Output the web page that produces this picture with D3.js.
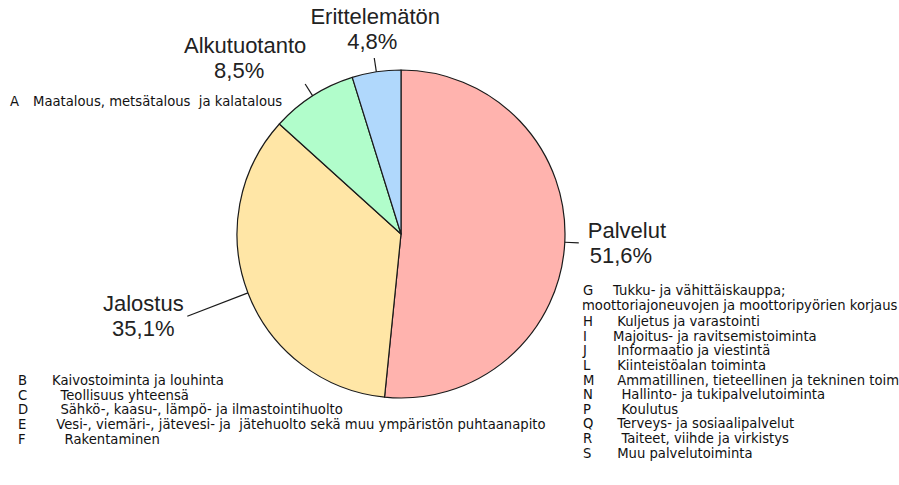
<!DOCTYPE html>
<html>
<head>
<meta charset="utf-8">
<script src="https://cdnjs.cloudflare.com/ajax/libs/d3/7.8.5/d3.min.js"></script>
<style>
  body { margin: 0; background: #fff; }
  text { white-space: pre; }
</style>
</head>
<body>
<div id="chart"></div>
<script>

// data
var sectors = ["Palvelut", "Jalostus", "Alkutuotanto", "Erittelemätön"];
var shares = [51.6, 35.1, 8.5, 4.8];
var colors = ["#ffb3ae", "#ffe6a6", "#b1fdcb", "#b0d8fc"];

// toimialaluokat (leading spaces kept like in the original)
var codesA = ["A"];
var namesA = ["Maatalous, metsätalous  ja kalatalous"];
var codesJalostus = ["B", "C", "D", "E", "F"];
var namesJalostus = ["Kaivostoiminta ja louhinta", "  Teollisuus yhteensä", "  Sähkö-, kaasu-, lämpö- ja ilmastointihuolto",
  " Vesi-, viemäri-, jätevesi- ja  jätehuolto sekä muu ympäristön puhtaanapito", "   Rakentaminen"];
var codesPalvelut = ["G", "", "H", "I", "J", "L", "M", "N", "P", "Q", "R", "S"];
var namesPalvelut = ["Tukku- ja vähittäiskauppa;", "moottoriajoneuvojen ja moottoripyörien korjaus", " Kuljetus ja varastointi",
  "Majoitus- ja ravitsemistoiminta", " Informaatio ja viestintä", " Kiinteistöalan toiminta",
  " Ammatillinen, tieteellinen ja tekninen toiminta", "  Hallinto- ja tukipalvelutoiminta", "  Koulutus",
  " Terveys- ja sosiaalipalvelut", "  Taiteet, viihde ja virkistys", " Muu palvelutoiminta"];

//Width and height
var w = 899;
var h = 485;
var cx = 401;
var cy = 234;
var r = 164;

var bigFont = "'Liberation Sans', Arial, sans-serif";
var smallFont = "'DejaVu Sans', Verdana, sans-serif";

function fmt(v) {
  return String(v).replace(".", ",") + "%";
}

var svg = d3.select("#chart")
  .append("svg")
  .attr("width", w)
  .attr("height", h);

var pie = d3.pie()
  .sort(null)
  .value(function(d) { return d; });

var arcs = pie(shares);

var arc = d3.arc()
  .innerRadius(0)
  .outerRadius(r);

var g = svg.append("g")
  .attr("transform", "translate(" + cx + "," + cy + ")");

g.selectAll("path")
  .data(arcs)
  .enter()
  .append("path")
  .attr("d", arc)
  .attr("fill", function(d, i) { return colors[i]; })
  .attr("stroke", "#1a1a1a")
  .attr("stroke-width", 1.2)
  .attr("stroke-linejoin", "round");

// leader lines, radial from the slice middle
var leaderLen = [14, 65, 14, 14];

function polar(a, rr) {
  return [Math.sin(a) * rr, -Math.cos(a) * rr];
}

g.selectAll("line.leader")
  .data(arcs)
  .enter()
  .append("line")
  .attr("class", "leader")
  .attr("x1", function(d) { return polar((d.startAngle + d.endAngle) / 2, r)[0]; })
  .attr("y1", function(d) { return polar((d.startAngle + d.endAngle) / 2, r)[1]; })
  .attr("x2", function(d, i) { return polar((d.startAngle + d.endAngle) / 2, r + leaderLen[i])[0]; })
  .attr("y2", function(d, i) { return polar((d.startAngle + d.endAngle) / 2, r + leaderLen[i])[1]; })
  .attr("stroke", "#1a1a1a")
  .attr("stroke-width", 1.2);

// label placement relative to leader end: dx, dy of first line, anchor
var labelPos = [
  { dx: 9, dy: -5, anchor: "start", dx2: 2 },
  { dx: -44, dy: -5, anchor: "middle", dx2: 0 },
  { dx: -60, dy: -31, anchor: "middle", dx2: -6 },
  { dx: 1, dy: -34, anchor: "middle", dx2: -3 }
];

var labels = g.selectAll("text.big")
  .data(arcs)
  .enter()
  .append("text")
  .attr("class", "big")
  .attr("font-family", bigFont)
  .attr("font-size", 22)
  .attr("fill", "#222")
  .attr("text-anchor", function(d, i) { return labelPos[i].anchor; })
  .attr("transform", function(d, i) {
    var p = polar((d.startAngle + d.endAngle) / 2, r + leaderLen[i]);
    return "translate(" + (p[0] + labelPos[i].dx) + "," + (p[1] + labelPos[i].dy) + ")";
  });

labels.append("tspan")
  .attr("x", 0)
  .attr("y", 0)
  .text(function(d, i) { return sectors[i]; });

labels.append("tspan")
  .attr("x", function(d, i) { return labelPos[i].dx2; })
  .attr("y", 25)
  .text(function(d) { return fmt(d.value); });

// class lists
function list(codes, names, x0, xName, y0, step, extra) {
  var grp = svg.append("g")
    .attr("font-family", smallFont)
    .attr("font-size", 13.2)
    .attr("fill", "#111");
  codes.forEach(function(c, i) {
    var y = y0 + i * step + (extra && i >= 2 ? extra : 0);
    if (c !== "") {
      grp.append("text").attr("x", x0).attr("y", y).text(c);
      grp.append("text").attr("x", xName).attr("y", y).text(names[i]);
    } else {
      grp.append("text").attr("x", x0 - 1).attr("y", y).text(names[i]);
    }
  });
}

list(codesA, namesA, 10, 33, 106, 15);
list(codesJalostus, namesJalostus, 18, 52, 385, 14.7);
list(codesPalvelut, namesPalvelut, 583, 613, 295, 14.6, 2);

</script>
</body>
</html>
